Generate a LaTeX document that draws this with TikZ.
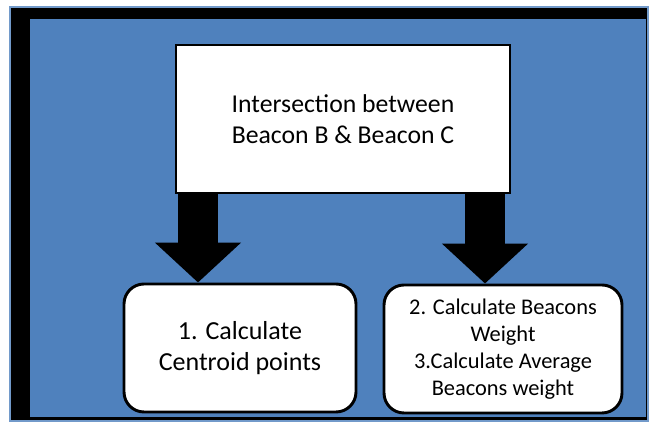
\documentclass[tikz,border=0pt]{standalone}
\usepackage{fontspec}
\setmainfont{Carlito}
\usetikzlibrary{arrows.meta}
\definecolor{panelblue}{RGB}{79,129,189}
\begin{document}
\begin{tikzpicture}[x=0.75pt,y=-0.75pt,
        whitebox/.style={draw=black, fill=white, line width=2.2pt, align=center, inner sep=0pt},
        blockarrow/.style={line width=30pt, -{Triangle[width=63pt,length=30pt]}}]
        \useasboundingbox (0,0) rectangle (651,423);
        % frame
        \filldraw[fill=black, draw=panelblue!80, line width=1pt] (10,7) rectangle (648,421);
        \fill[panelblue] (30,19) rectangle (646,417);

        \node[whitebox, minimum width=250.5pt, minimum height=111pt,
            font=\fontsize{19.3}{23.5}\selectfont] (inter) at (343,119)
            {Intersection between\\Beacon B \& Beacon C};
        \node[whitebox, rounded corners=15pt, minimum width=174pt, minimum height=96pt,
            font=\fontsize{19.5}{23}\selectfont] (centroid) at (240,348)
            {1. Calculate\\Centroid points};
        \node[whitebox, rounded corners=15pt, minimum width=178.5pt, minimum height=96pt,
            font=\fontsize{16.8}{20.3}\selectfont] (weight) at (503,349)
            {2. Calculate Beacons\\Weight\\3.Calculate Average\\Beacons weight};

        \coordinate (lft) at (198,0);
        \coordinate (rgt) at (485,0);
        \draw[blockarrow] (inter.south -| lft) -- (centroid.north -| lft);
        \draw[blockarrow] (inter.south -| rgt) -- (weight.north -| rgt);
    \end{tikzpicture}
\end{document}
